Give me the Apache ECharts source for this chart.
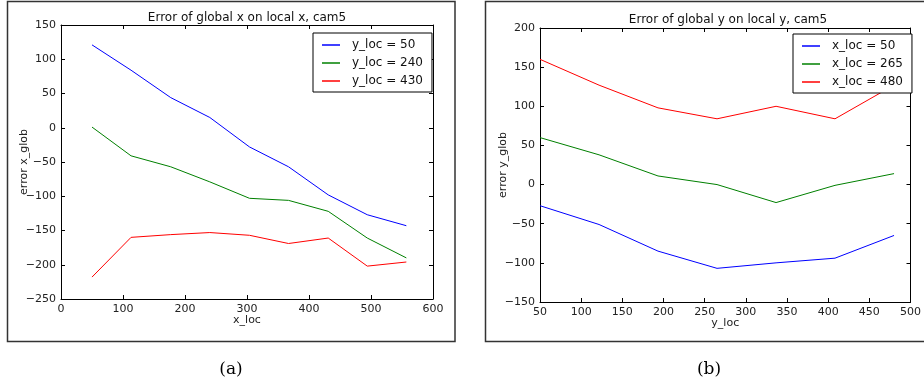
<!DOCTYPE html>
<html>
<head>
<meta charset="utf-8">
<script src="https://cdn.jsdelivr.net/npm/echarts@6/dist/echarts.min.js"></script>
<style>
html,body{margin:0;padding:0;background:#fff;}
#c{width:924px;height:385px;}
</style>
</head>
<body>
<div id="c"></div>
<script>
// Panel (a): error of global x vs local x
var xLocA = [50, 113, 177, 240, 304, 367, 431, 494, 557];
var yLoc50 = [121, 84, 44, 15, -28, -57, -98, -127, -143];
var yLoc240 = [1, -41, -57, -79, -103, -106, -122, -161, -190];
var yLoc430 = [-218, -160, -156, -153, -157, -169, -161, -202, -196];
var legendA = ['y_loc = 50', 'y_loc = 240', 'y_loc = 430'];

// Panel (b): error of global y vs local y
var yLocB = [50, 121.7, 193.3, 265, 336.7, 408.3, 480];
var xLoc50 = [-27, -51, -85, -107, -100, -94, -65];
var xLoc265 = [60, 38, 11, 0, -23, -1, 14];
var xLoc480 = [160, 127, 98, 84, 100, 84, 127];
var legendB = ['x_loc = 50', 'x_loc = 265', 'x_loc = 480'];

var titles = ['Error of global x on local x, cam5', 'Error of global y on local y, cam5'];
var captions = ['(a)', '(b)'];

function pair(xs, ys){ return xs.map(function(x,i){ return [x, ys[i]]; }); }
var FONT = 'DejaVu Sans';
var minus = function(v){ return String(v).replace('-', '\u2212'); };
var colors = ['#0000ff', '#008000', '#ff0000'];

var axLine = {show:true, onZero:false, lineStyle:{color:'#000', width:1}};
var axTick = {show:true, inside:true, length:4, lineStyle:{color:'#000'}};

function xAx(grid, min, max, interval, name, gap){
  return [{
    type:'value', gridIndex:grid, min:min, max:max, interval:interval, position:'bottom',
    name:name, nameLocation:'middle', nameGap:gap, nameMoveOverlap:false,
    nameTextStyle:{fontFamily:FONT, fontSize:11, color:'#222'},
    axisLine:axLine, axisTick:axTick,
    axisLabel:{fontFamily:FONT, fontSize:11, color:'#222', margin:5, formatter:minus},
    splitLine:{show:false}
  },{
    type:'value', gridIndex:grid, min:min, max:max, interval:interval, position:'top',
    axisLine:axLine, axisTick:axTick,
    axisLabel:{show:false}, splitLine:{show:false}
  }];
}
function yAx(grid, min, max, interval, name, gap){
  return [{
    type:'value', gridIndex:grid, min:min, max:max, interval:interval, position:'left',
    name:name, nameLocation:'middle', nameGap:gap, nameRotate:90, nameMoveOverlap:false,
    nameTextStyle:{fontFamily:FONT, fontSize:11, color:'#222'},
    axisLine:axLine, axisTick:axTick,
    axisLabel:{fontFamily:FONT, fontSize:11, color:'#222', margin:5, formatter:minus},
    splitLine:{show:false}
  },{
    type:'value', gridIndex:grid, min:min, max:max, interval:interval, position:'right',
    axisLine:axLine, axisTick:axTick,
    axisLabel:{show:false}, splitLine:{show:false}
  }];
}

function ser(name, xi, yi, data, color){
  return {type:'line', name:name, xAxisIndex:xi, yAxisIndex:yi, data:data,
    symbol:'none', showSymbol:false, animation:false,
    lineStyle:{color:color, width:1}, itemStyle:{color:color}};
}

function legend(names, left, top){
  return {
    data:names, orient:'vertical', left:left, top:top,
    icon:'rect', itemWidth:18, itemHeight:1.5, itemGap:4,
    padding:[5,9,4,9], borderColor:'#000', borderWidth:1, backgroundColor:'#fff',
    textStyle:{fontFamily:FONT, fontSize:12, color:'#111', lineHeight:14, padding:[0,0,0,7]},
    selectedMode:false
  };
}

var option = {
  animation:false,
  backgroundColor:'#fff',
  title:[
    {text:titles[0], left:247, top:12, padding:0, textAlign:'center', textStyle:{fontFamily:FONT, fontSize:12, fontWeight:'normal', color:'#111'}},
    {text:titles[1], left:728, top:14, padding:0, textAlign:'center', textStyle:{fontFamily:FONT, fontSize:12, fontWeight:'normal', color:'#111'}},
    {text:captions[0], left:231, top:361, padding:0, textAlign:'center', textStyle:{fontFamily:'DejaVu Serif', fontSize:17, fontWeight:'normal', color:'#000'}},
    {text:captions[1], left:709, top:361, padding:0, textAlign:'center', textStyle:{fontFamily:'DejaVu Serif', fontSize:17, fontWeight:'normal', color:'#000'}}
  ],
  grid:[
    {left:61, top:25, width:372, height:274},
    {left:540, top:28, width:374, height:274}
  ],
  xAxis: xAx(0, 0, 600, 100, 'x_loc', 16).concat(xAx(1, 50, 500, 50, 'y_loc', 16)),
  yAxis: yAx(0, -250, 150, 50, 'error x_glob', 31).concat(yAx(1, -150, 200, 50, 'error y_glob', 31)),
  legend:[legend(legendA, 313, 33), legend(legendB, 793, 34)],
  series:[
    ser(legendA[0], 0, 0, pair(xLocA, yLoc50), colors[0]),
    ser(legendA[1], 0, 0, pair(xLocA, yLoc240), colors[1]),
    ser(legendA[2], 0, 0, pair(xLocA, yLoc430), colors[2]),
    ser(legendB[0], 2, 2, pair(yLocB, xLoc50), colors[0]),
    ser(legendB[1], 2, 2, pair(yLocB, xLoc265), colors[1]),
    ser(legendB[2], 2, 2, pair(yLocB, xLoc480), colors[2])
  ],
  graphic:[
    {type:'rect', shape:{x:7.5, y:1.5, width:447.5, height:340}, style:{fill:null, stroke:'#333', lineWidth:1.5}, silent:true, z:-1},
    {type:'rect', shape:{x:485.5, y:1.5, width:460, height:340}, style:{fill:null, stroke:'#333', lineWidth:1.5}, silent:true, z:-1}
  ]
};

var chart = echarts.init(document.getElementById('c'), null, {renderer:'canvas'});
chart.setOption(option);
</script>
</body>
</html>
